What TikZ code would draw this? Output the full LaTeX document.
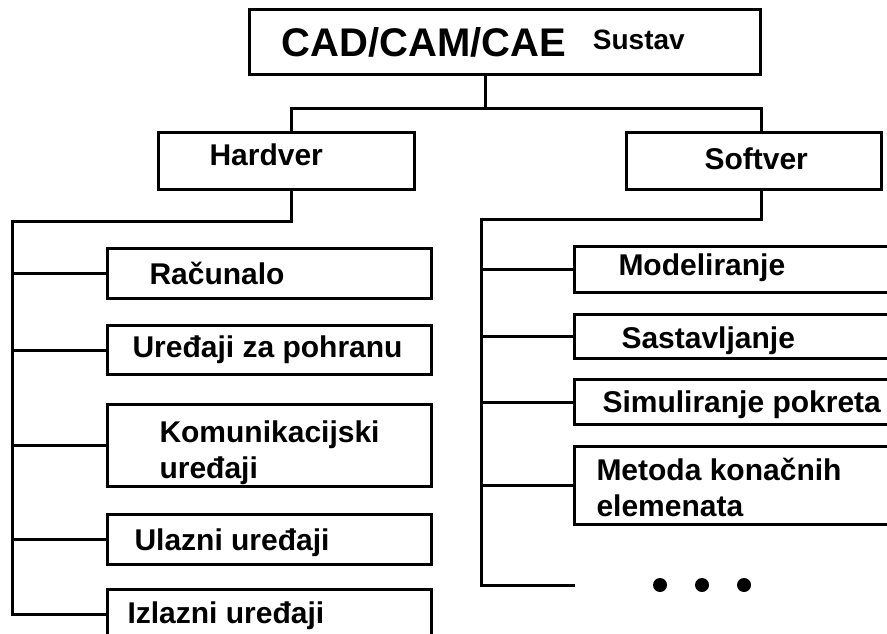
\documentclass[tikz,border=0pt]{standalone}
\usepackage{fontspec}
\setmainfont{Liberation Sans}
\usepackage{tikz}
\usetikzlibrary{positioning}

\begin{document}
\begin{tikzpicture}[x=1pt, y=-1pt, line width=3pt,
    box/.style={draw, rectangle, anchor=north west, inner sep=0pt},
    lbl/.style={inner sep=0pt, font=\fontsize{30}{36}\selectfont\bfseries, text height=21.5pt, text depth=0pt},
    lbltwo/.style={inner sep=0pt, font=\fontsize{30}{36}\selectfont\bfseries, align=left},
    dot/.style={circle, fill, inner sep=0pt, minimum size=14pt}]
    \path[use as bounding box, clip] (0,0) rectangle (887,634);

    % Boxes
    \node[box, minimum width=511pt, minimum height=65pt] (cad) at (248,8) {};
    \node[box, minimum width=256pt, minimum height=57pt] (hardver) at (157,131) {};
    \node[box, minimum width=255pt, minimum height=57pt] (softver) at (625,131) {};
    \node[box, minimum width=324pt, minimum height=50pt] (racunalo) at (106,247) {};
    \node[box, minimum width=324pt, minimum height=49pt] (pohrana) at (106,324) {};
    \node[box, minimum width=324pt, minimum height=82pt] (komunikacija) at (106,403) {};
    \node[box, minimum width=324pt, minimum height=50pt] (ulaz) at (106,513) {};
    \node[box, minimum width=324pt, minimum height=50pt] (izlaz) at (106,588) {};
    \node[box, minimum width=330pt, minimum height=46pt] (modeliranje) at (573,245) {};
    \node[box, minimum width=330pt, minimum height=44pt] (sastavljanje) at (573,313) {};
    \node[box, minimum width=330pt, minimum height=45pt] (simuliranje) at (573,378) {};
    \node[box, minimum width=330pt, minimum height=78pt] (mke) at (573,445) {};

    % Labels
    \node[lbl, text height=28.6pt, right=32pt of cad.west] (cadtxt)
        {{\fontsize{40}{48}\selectfont CAD/CAM/CAE}\hspace{27pt}\raisebox{7pt}{\fontsize{28}{34}\selectfont Sustav}};
    \node[lbl, right=51pt of hardver.west, yshift=6pt] (hardvertxt) {Hardver};
    \node[lbl, right=78pt of softver.west, yshift=2.5pt] (softvertxt) {Softver};
    \node[lbl, right=42pt of racunalo.west] (racunalotxt) {Računalo};
    \node[lbl, right=25pt of pohrana.west, yshift=3pt] (pohranatxt) {Uređaji za pohranu};
    \node[lbltwo, right=52pt of komunikacija.west, yshift=-7pt] (komunikacijatxt) {Komunikacijski\\uređaji};
    \node[lbl, right=27pt of ulaz.west] (ulaztxt) {Ulazni uređaji};
    \node[lbl, right=20pt of izlaz.west, yshift=2pt] (izlaztxt) {Izlazni uređaji};
    \node[lbl, right=44pt of modeliranje.west, yshift=5pt] (modeliranjetxt) {Modeliranje};
    \node[lbl, right=47pt of sastavljanje.west, yshift=-1pt] (sastavljanjetxt) {Sastavljanje};
    \node[lbl, right=28pt of simuliranje.west] (simuliranjetxt) {Simuliranje pokreta};
    \node[lbltwo, right=22pt of mke.west, yshift=-2pt] (mketxt) {Metoda konačnih\\elemenata};

    % Dots
    \node[dot] (dot1) at (660,585) {};
    \node[dot, right=25pt of dot1] (dot2) {};
    \node[dot, right=25pt of dot2] (dot3) {};

    % Connectors
    \coordinate (hwbus) at (12,221);
    \coordinate (swbus) at (481,219);
    \coordinate (dotsend) at (575,585);
    \draw ([xshift=-20pt]cad.south) -- ++(0,33) -| ([xshift=5pt]hardver.north);
    \draw ([xshift=-20pt]cad.south) -- ++(0,33) -| ([xshift=7pt]softver.north);
    \draw ([xshift=5pt]hardver.south) |- (hwbus) |- (izlaz.west);
    \draw (hwbus |- racunalo.west) -- (racunalo.west)
          (hwbus |- pohrana.west) -- (pohrana.west)
          (hwbus |- komunikacija.west) -- (komunikacija.west)
          (hwbus |- ulaz.west) -- (ulaz.west);
    \draw ([xshift=7pt]softver.south) |- (swbus) |- (dotsend);
    \draw (swbus |- modeliranje.west) -- (modeliranje.west)
          (swbus |- sastavljanje.west) -- (sastavljanje.west)
          (swbus |- simuliranje.west) -- (simuliranje.west)
          (swbus |- mke.west) -- (mke.west);
\end{tikzpicture}
\end{document}
